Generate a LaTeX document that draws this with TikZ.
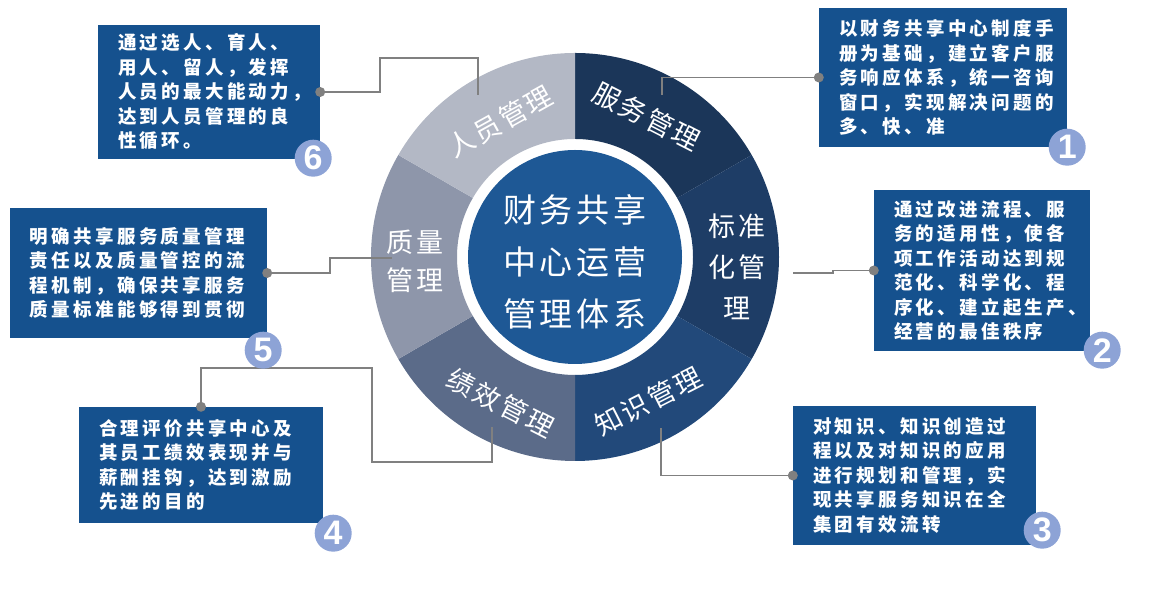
\documentclass[tikz,border=0pt]{standalone}
\usepackage{fontspec}
\usepackage{tikz}
\usetikzlibrary{positioning, calc}
\newfontfamily\cjkbox[LetterSpace=18]{Noto Sans CJK SC}
\newfontfamily\cjkring[LetterSpace=10]{Noto Sans CJK SC}
\newfontfamily\cjkcore[LetterSpace=12]{Noto Sans CJK SC}
\newfontfamily\numfont{Liberation Sans}
\definecolor{segservice}{HTML}{1B3659}
\definecolor{segstandard}{HTML}{1E3D66}
\definecolor{segknow}{HTML}{22497A}
\definecolor{segperf}{HTML}{5B6B89}
\definecolor{segquality}{HTML}{8E96AA}
\definecolor{segpeople}{HTML}{B3B8C5}
\definecolor{discblue}{HTML}{1E5895}
\definecolor{boxblue}{HTML}{15518E}
\definecolor{badgeblue}{HTML}{8DA3D6}
\definecolor{linegray}{HTML}{808080}

\begin{document}
\begin{tikzpicture}[
        x=1pt, y=1pt,
        desc/.style={rectangle, fill=boxblue, text=white, align=left, inner xsep=20pt, inner ysep=0pt, font=\cjkbox\bfseries\fontsize{18.5}{24.5}\selectfont},
        badge/.style={circle, fill=badgeblue, text=white, minimum size=37pt, inner sep=0pt, font=\numfont\bfseries\fontsize{34}{34}\selectfont},
        seglabel/.style={text=white, align=center, inner sep=0pt, font=\cjkring\fontsize{27}{41}\selectfont},
        link/.style={draw=linegray, line width=1.5pt}
    ]
    \useasboundingbox (0,0) rectangle (1152,593);

    \begin{scope}[shift={(575,336)}]
        \fill[segservice] (30:204pt) arc[start angle=30, end angle=90, radius=204pt] -- (90:118pt) arc[start angle=90, end angle=30, radius=118pt] -- cycle;
        \fill[segstandard] (-30:204pt) arc[start angle=-30, end angle=30, radius=204pt] -- (30:118pt) arc[start angle=30, end angle=-30, radius=118pt] -- cycle;
        \fill[segknow] (-90:204pt) arc[start angle=-90, end angle=-30, radius=204pt] -- (-30:118pt) arc[start angle=-30, end angle=-90, radius=118pt] -- cycle;
        \fill[segperf] (-150:204pt) arc[start angle=-150, end angle=-90, radius=204pt] -- (-90:118pt) arc[start angle=-90, end angle=-150, radius=118pt] -- cycle;
        \fill[segquality] (150:204pt) arc[start angle=150, end angle=210, radius=204pt] -- (210:118pt) arc[start angle=210, end angle=150, radius=118pt] -- cycle;
        \fill[segpeople] (90:204pt) arc[start angle=90, end angle=150, radius=204pt] -- (150:118pt) arc[start angle=150, end angle=90, radius=118pt] -- cycle;
        \fill[discblue] (0,0) circle[radius=107pt];

        \node[text=white, align=center, font=\cjkcore\fontsize{33}{52}\selectfont] (CORE) at (0,-5) {财务共享\\中心运营\\管理体系};
        \node[seglabel, rotate=-27] (SERVICE) at (63:158pt) {服务管理};
        \node[seglabel] (STANDARD) at (162,-10) {标准\\化管\\理};
        \node[seglabel, rotate=27] (KNOW) at (-63:162pt) {知识管理};
        \node[seglabel, rotate=-27] (PERF) at (-117:164pt) {绩效管理};
        \node[seglabel, font=\cjkring\fontsize{27}{38}\selectfont] (QUALITY) at (-160,-4) {质量\\管理};
        \node[seglabel, rotate=29] (PEOPLE) at (119:155pt) {人员管理};
    \end{scope}

    \node[desc, minimum width=248, minimum height=139, text width=208] (DESC1) at (943,515.5) {以财务共享中心制度手\\册为基础，建立客户服\\务响应体系，统一咨询\\窗口，实现解决问题的\\多、快、准};
    \node[desc, minimum width=216, minimum height=161, text width=176] (DESC2) at (982,322.5) {通过改进流程、服\\务的适用性，使各\\项工作活动达到规\\范化、科学化、程\\序化、建立起生产、\\经营的最佳秩序};
    \node[desc, minimum width=243, minimum height=139, text width=203] (DESC3) at (914.5,117.5) {对知识、知识创造过\\程以及对知识的应用\\进行规划和管理，实\\现共享服务知识在全\\集团有效流转};
    \node[desc, minimum width=244, minimum height=116, text width=204] (DESC4) at (201,128) {合理评价共享中心及\\其员工绩效表现并与\\薪酬挂钩，达到激励\\先进的目的};
    \node[desc, minimum width=257, minimum height=130, text width=217] (DESC5) at (138.5,320) {明确共享服务质量管理\\责任以及质量管控的流\\程机制，确保共享服务\\质量标准能够得到贯彻};
    \node[desc, minimum width=222, minimum height=134, text width=182] (DESC6) at (209,501) {通过选人、育人、\\用人、留人，发挥\\人员的最大能动力，\\达到人员管理的良\\性循环。};

    \coordinate (END1) at (662,498);
    \coordinate (END2) at (793,320);
    \coordinate (END3) at (661,165);
    \coordinate (END4) at (492,166);
    \coordinate (END5) at (392,335);
    \coordinate (END6) at (478,498);

    \draw[link] (DESC1.west) -| (END1);
    \draw[link] (DESC2.west) -- ++(-41,0) -- ++(0,-2.5) -- (END2);
    \draw[link] (DESC3.west) -| (END3);
    \draw[link] (DESC4.north) |- (372,225) -- (372,131) -| (END4);
    \draw[link] (DESC5.east) -- (330,320) |- (END5);
    \draw[link] (DESC6.east) -| (380,535) -| (END6);

    \fill[linegray] (DESC1.west) circle[radius=5pt];
    \fill[linegray] (DESC2.west) circle[radius=5pt];
    \fill[linegray] (DESC3.west) circle[radius=5pt];
    \fill[linegray] (DESC4.north) circle[radius=5pt];
    \fill[linegray] (DESC5.east) circle[radius=5pt];
    \fill[linegray] (DESC6.east) circle[radius=5pt];

    \node[badge] (NUM1) at (DESC1.south east) {1};
    \node[badge] (NUM2) at ([xshift=12pt, yshift=1pt]DESC2.south east) {2};
    \node[badge] (NUM3) at ([xshift=6pt, yshift=15pt]DESC3.south east) {3};
    \node[badge] (NUM4) at ([xshift=10pt, yshift=-10pt]DESC4.south east) {4};
    \node[badge] (NUM5) at ([xshift=-4pt, yshift=-12pt]DESC5.south east) {5};
    \node[badge] (NUM6) at ([xshift=-7pt, yshift=1pt]DESC6.south east) {6};
\end{tikzpicture}
\end{document}
